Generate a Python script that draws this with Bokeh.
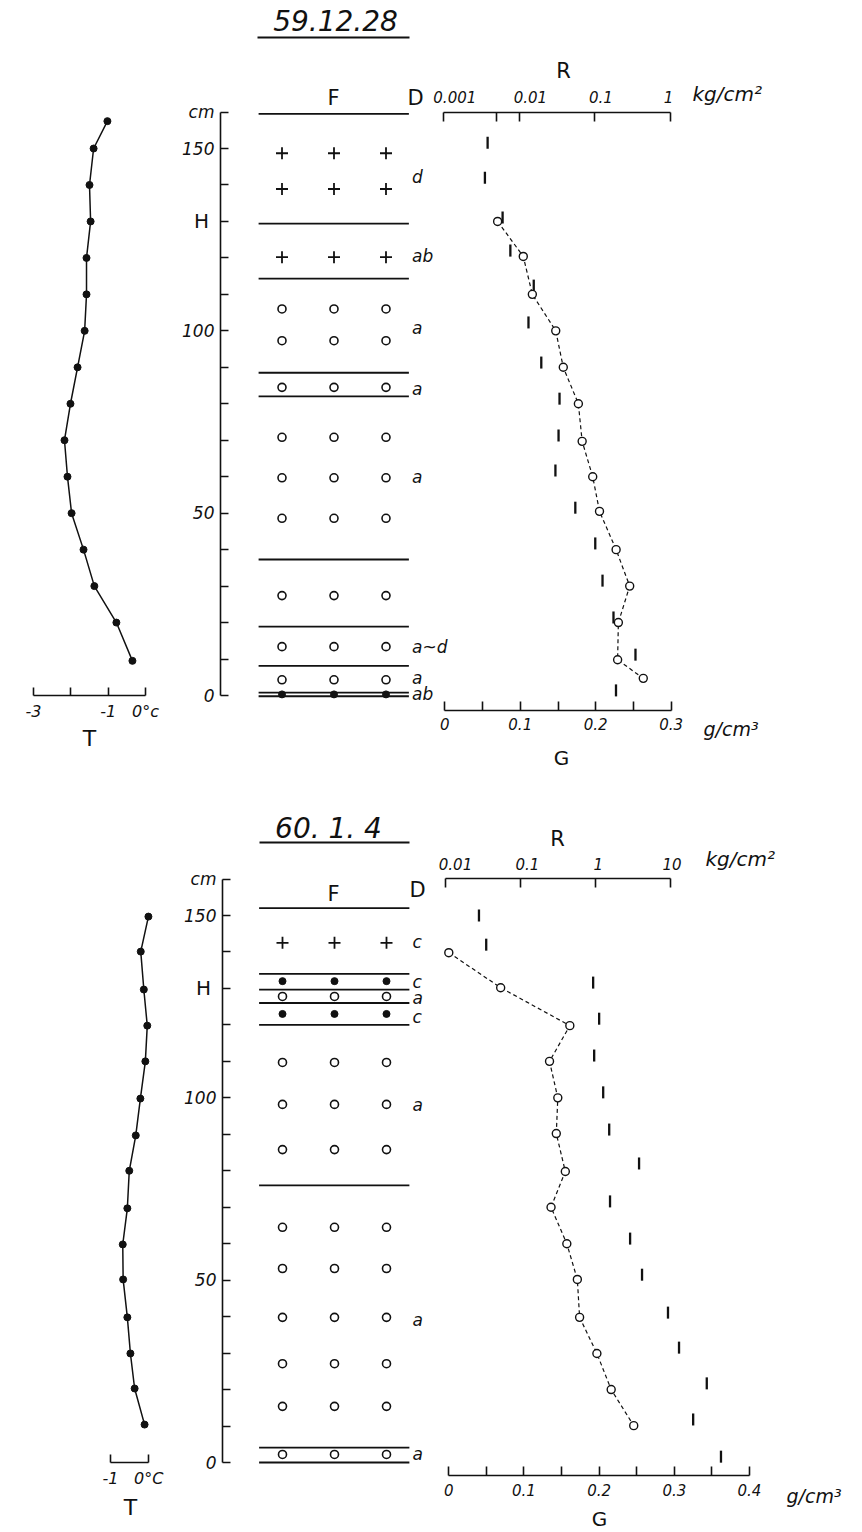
import numpy as np
from bokeh.plotting import figure
from bokeh.models import Range1d, LinearAxis, LogAxis, LogScale, FixedTicker
from bokeh.core.properties import value
from bokeh.embed import file_html
from bokeh.resources import INLINE

# ------------------------------------------------------------------ data
# panel 1 : 59.12.28
title_1 = "59.12.28"
t_depth_1 = [157.5, 150, 140, 130, 120, 110, 100, 90, 80, 70, 60, 50, 40, 30, 20, 9.5]
t_val_1 = [-1.02, -1.39, -1.50, -1.47, -1.58, -1.58, -1.63, -1.82, -2.01, -2.17,
           -2.09, -1.98, -1.66, -1.37, -0.78, -0.35]
layer_lines_1 = [159.5, 129.4, 114.3, 88.5, 82.0, 37.3, 18.9, 8.1, 0.8, -0.2]
f_depth_1 = [148.7, 138.9, 120.2, 106.0, 97.3, 84.5, 70.8, 59.7, 48.6, 27.4, 13.4, 4.3, 0.3]
f_type_1 = ["+", "+", "+", "o", "o", "o", "o", "o", "o", "o", "o", "o", "•"]
d_depth_1 = [142.3, 120.6, 100.9, 84.0, 60.0, 13.2, 4.7, 0.3]
d_text_1 = ["d", "ab", "a", "a", "a", "a~d", "a", "ab"]
r_depth_1 = [151.6, 142.0, 131.1, 122.0, 112.4, 102.3, 91.3, 81.4, 71.3, 61.7,
             51.5, 41.7, 31.5, 21.4, 11.2, 1.4]
r_val_1 = [0.0038, 0.0035, 0.0060, 0.0076, 0.0155, 0.0132, 0.0195, 0.034, 0.033,
           0.030, 0.055, 0.101, 0.126, 0.176, 0.344, 0.19]
g_depth_1 = [130, 120.4, 110, 100, 90, 80, 69.7, 60, 50.5, 40, 30, 20, 9.8, 4.7]
g_val_1 = [0.070, 0.104, 0.116, 0.147, 0.157, 0.177, 0.182, 0.196, 0.205, 0.227,
           0.245, 0.230, 0.229, 0.263]
t_ticks_1 = [-3, -2, -1, 0]
t_labels_1 = ["-3", "", "-1", "0°c"]
r_ticks_1 = [0.001, 0.01, 0.1, 1]
r_labels_1 = ["0.001", "0.01", "0.1", "1"]
r_minor_1 = [0.005]
g_ticks_1 = [0, 0.1, 0.2, 0.3]
g_labels_1 = ["0", "0.1", "0.2", "0.3"]
g_minor_1 = [0.05, 0.15, 0.25]

# panel 2 : 60. 1. 4
title_2 = "60. 1. 4"
t_depth_2 = [149.7, 140.1, 129.7, 119.8, 110, 99.8, 89.7, 80, 69.7, 59.8, 50.2,
             39.8, 29.9, 20.3, 10.4]
t_val_2 = [-0.01, -0.21, -0.13, -0.04, -0.09, -0.22, -0.34, -0.51, -0.56, -0.68,
           -0.67, -0.56, -0.48, -0.37, -0.11]
layer_lines_2 = [152.0, 134.0, 129.7, 126.0, 120.0, 76.0, 4.1, 0.0]
f_depth_2 = [142.5, 132.0, 127.8, 123.0, 109.7, 98.2, 85.8, 64.5, 53.2, 39.8, 27.1, 15.4, 2.2]
f_type_2 = ["+", "•", "o", "•", "o", "o", "o", "o", "o", "o", "o", "o", "o"]
d_depth_2 = [142.6, 131.9, 127.5, 122.3, 97.9, 39.2, 2.2]
d_text_2 = ["c", "c", "a", "c", "a", "a", "a"]
r_depth_2 = [150.0, 142.0, 131.6, 121.7, 111.6, 101.5, 91.3, 82.0, 71.6, 61.4,
             51.5, 41.1, 31.5, 21.7, 11.8, 1.6]
r_val_2 = [0.028, 0.035, 0.94, 1.13, 0.97, 1.28, 1.54, 3.86, 1.58, 2.93, 4.23,
           9.4, 13.2, 31.0, 20.4, 48.0]
g_depth_2 = [139.8, 130.2, 119.8, 110, 100, 90.2, 79.8, 70, 60, 50.2, 39.8, 29.9, 20, 10.1]
g_val_2 = [0.0, 0.069, 0.161, 0.134, 0.145, 0.143, 0.155, 0.136, 0.157, 0.171,
           0.174, 0.197, 0.216, 0.246]
t_ticks_2 = [-1, 0]
t_labels_2 = ["-1", "0°C"]
r_ticks_2 = [0.01, 0.1, 1, 10]
r_labels_2 = ["0.01", "0.1", "1", "10"]
g_ticks_2 = [0, 0.1, 0.2, 0.3, 0.4]
g_labels_2 = ["0", "0.1", "0.2", "0.3", "0.4"]
g_minor_2 = [0.05, 0.15, 0.25, 0.35]

depth_ticks = [0, 50, 100, 130, 150, 160]
depth_labels = ["0", "50", "100", "", "150", "cm"]
depth_minor = [10, 20, 30, 40, 60, 70, 80, 90, 110, 120, 140]
h_depth = 130
f_columns = [1, 2, 3]

# ------------------------------------------------------------------ layout helpers
FW, FH = 862, 1532          # frame size (figure is drawn at the page origin)
M = 0


def xr(v1, px1, v2, px2, log=False):
    f = np.log10 if log else (lambda v: v)
    a1, a2 = f(v1), f(v2)
    s = (px2 - px1) / (a2 - a1)
    start = a1 - (px1 - M) / s
    end = start + FW / s
    if log:
        start, end = 10 ** start, 10 ** end
    return Range1d(start, end)


def yr(v1, py1, v2, py2):
    b1, b2 = (M + FH) - py1, (M + FH) - py2
    s = (b2 - b1) / (v2 - v1)
    start = v1 - b1 / s
    return Range1d(start, start + FH / s)


p = figure(width=FW, height=FH, output_backend="svg", toolbar_location=None,
           x_axis_type=None, y_axis_type=None,
           x_range=Range1d(M, M + FW), y_range=Range1d(M + FH, M),
           min_border=0, outline_line_color=None, background_fill_color="white")
p.grid.visible = False

p.extra_x_ranges = {
    "T1": xr(-3, 33, 0, 145), "F1": xr(1, 281.5, 3, 385.5),
    "R1": xr(0.001, 443.3, 1, 670, log=True), "G1": xr(0, 444.3, 0.3, 670.7),
    "T2": xr(-1, 110, 0, 148.3), "F2": xr(1, 282, 3, 386),
    "R2": xr(0.01, 445, 10, 669.5, log=True), "G2": xr(0, 448.3, 0.4, 749),
}
p.extra_x_scales = {"R1": LogScale(), "R2": LogScale()}
p.extra_y_ranges = {"D1": yr(0, 695, 150, 148), "D2": yr(0, 1462, 150, 915)}

INK = "#111111"
NUMFONT = "DejaVu Sans"


def style_axis(ax, ticks, labels, minor, tick_len, lab_size, standoff):
    ax.ticker = FixedTicker(ticks=ticks, minor_ticks=minor)
    ax.major_label_overrides = {t: l for t, l in zip(ticks, labels)}
    ax.axis_line_color = INK
    ax.axis_line_width = 1.6
    ax.major_tick_line_color = INK
    ax.major_tick_line_width = 1.6
    ax.minor_tick_line_color = INK
    ax.minor_tick_line_width = 1.6
    ax.major_tick_in = tick_len
    ax.major_tick_out = 0
    ax.minor_tick_in = tick_len
    ax.minor_tick_out = 0
    ax.major_label_text_font = NUMFONT
    ax.major_label_text_font_style = "italic"
    ax.major_label_text_font_size = lab_size
    ax.major_label_text_color = INK
    ax.major_label_standoff = standoff


def text(x, y, s, size, style="normal", align="center", xr_name="default",
         yr_name="default", font="DejaVu Sans", x_offset=0, y_offset=0):
    p.text(x=x, y=y, text=s, x_range_name=xr_name, y_range_name=yr_name,
           text_font=value(font), text_font_size=value(size),
           text_font_style=style, text_align=align, text_baseline="middle",
           text_color=INK, x_offset=x_offset, y_offset=y_offset)


def panel(k, title, t_depth, t_val, lines, f_depth, f_type, d_depth, d_text,
          r_depth, r_val, g_depth, g_val, t_ticks, t_labels, r_ticks, r_labels,
          r_minor, g_ticks, g_labels, g_minor, geo):
    D, T, F, R, G = "D" + k, "T" + k, "F" + k, "R" + k, "G" + k

    # depth axis
    ax = LinearAxis(y_range_name=D, fixed_location=geo["axis_x"], bounds=(0, 160))
    style_axis(ax, depth_ticks, depth_labels, depth_minor, 8, "17px", 6)
    p.add_layout(ax, "left")
    text([geo["axis_x"]], [h_depth], ["H"], "20px", yr_name=D, x_offset=-19)

    # temperature axis + profile
    ax = LinearAxis(x_range_name=T, y_range_name=D, fixed_location=0,
                    bounds=(min(t_ticks), max(t_ticks)))
    style_axis(ax, t_ticks, t_labels, [], 8, "16px", 6)
    p.add_layout(ax, "below")
    p.line(t_val, t_depth, x_range_name=T, y_range_name=D, line_color=INK, line_width=1.5)
    p.scatter(t_val, t_depth, x_range_name=T, y_range_name=D, size=7,
              fill_color=INK, line_color=INK)

    # density axis (below) and hardness axis (above)
    ax = LinearAxis(x_range_name=G, y_range_name=D, fixed_location=geo["g_loc"],
                    bounds=(g_ticks[0], g_ticks[-1]))
    style_axis(ax, g_ticks, g_labels, g_minor, 9, "15px", 8)
    p.add_layout(ax, "below")
    ax = LogAxis(x_range_name=R, y_range_name=D, fixed_location=geo["r_loc"],
                 bounds=(r_ticks[0], r_ticks[-1]))
    style_axis(ax, r_ticks, [""] * len(r_ticks), r_minor, 9, "15px", 5)
    p.add_layout(ax, "above")
    # hardness tick labels, set slightly off their ticks as in the drawing
    text(r_ticks, [geo["r_loc"]] * len(r_ticks), r_labels, "15px", style="italic",
         xr_name=R, yr_name=D, x_offset=geo["r_lab_dx"], y_offset=-15)

    # layer boundaries
    n = len(lines)
    p.segment(x0=[0.55] * n, x1=[3.44] * n, y0=lines, y1=lines,
              x_range_name=F, y_range_name=D, line_color=INK, line_width=1.8)

    # grain-shape symbols
    for sym, kw in (("+", dict(marker="cross", size=12, fill_color=None, line_width=1.8)),
                    ("o", dict(marker="circle", size=8, fill_color="white", line_width=1.6)),
                    ("•", dict(marker="circle", size=7, fill_color=INK, line_width=1))):
        xs = [c for d, t in zip(f_depth, f_type) if t == sym for c in f_columns]
        ys = [d for d, t in zip(f_depth, f_type) if t == sym for c in f_columns]
        if xs:
            p.scatter(xs, ys, x_range_name=F, y_range_name=D, line_color=INK, **kw)

    # grain size letters
    text([3.5] * len(d_depth), d_depth, d_text, "17px", style="italic", align="left",
         xr_name=F, yr_name=D)

    # hardness bars
    p.scatter(r_val, r_depth, x_range_name=R, y_range_name=D, marker="dash",
              angle=np.pi / 2, size=12, line_color=INK, line_width=2.3)

    # density
    p.line(g_val, g_depth, x_range_name=G, y_range_name=D, line_color=INK,
           line_width=1.2, line_dash="4 3")
    p.scatter(g_val, g_depth, x_range_name=G, y_range_name=D, marker="circle",
              size=8, fill_color="white", line_color=INK, line_width=1.4)

    # titles and labels (page coordinates)
    text([geo["title"][0]], [geo["title"][1]], [title], "28px", style="italic")
    ul = geo["underline"]
    p.segment(x0=[ul[0]], x1=[ul[1]], y0=[ul[2]], y1=[ul[2]], line_color=INK, line_width=2)
    text([geo["F"][0], geo["D"][0]], [geo["F"][1], geo["D"][1]], ["F", "D"], "21px")
    text([geo["R"][0]], [geo["R"][1]], ["R"], "21px")
    text([geo["T"][0]], [geo["T"][1]], ["T"], "22px")
    text([geo["G"][0]], [geo["G"][1]], ["G"], "20px")
    text([geo["kg"][0]], [geo["kg"][1]], ["kg/cm²"], "20px", style="italic", align="left")
    text([geo["gcm"][0]], [geo["gcm"][1]], ["g/cm³"], "19px", style="italic", align="left")


panel("1", title_1, t_depth_1, t_val_1, layer_lines_1, f_depth_1, f_type_1,
      d_depth_1, d_text_1, r_depth_1, r_val_1, g_depth_1, g_val_1,
      t_ticks_1, t_labels_1, r_ticks_1, r_labels_1, r_minor_1,
      g_ticks_1, g_labels_1, g_minor_1,
      dict(axis_x=220, g_loc=-4.1, r_loc=159.9, r_lab_dx=[11, 11, 6, -2], title=(335, 20),
           underline=(257, 409, 37), F=(333, 97), D=(415, 97), R=(563, 70),
           T=(89, 738), G=(561, 757), kg=(692, 93), gcm=(703, 728)))

panel("2", title_2, t_depth_2, t_val_2, layer_lines_2, f_depth_2, f_type_2,
      d_depth_2, d_text_2, r_depth_2, r_val_2, g_depth_2, g_val_2,
      t_ticks_2, t_labels_2, r_ticks_2, r_labels_2, [],
      g_ticks_2, g_labels_2, g_minor_2,
      dict(axis_x=222, g_loc=-3.6, r_loc=160.1, r_lab_dx=[10, 7, 3, 2], title=(328, 828),
           underline=(259, 409, 842), F=(333, 893), D=(417, 889), R=(557, 838),
           T=(130, 1507), G=(599, 1518), kg=(705, 858), gcm=(786, 1495)))

open("out.html", "w").write(file_html(p, INLINE))
